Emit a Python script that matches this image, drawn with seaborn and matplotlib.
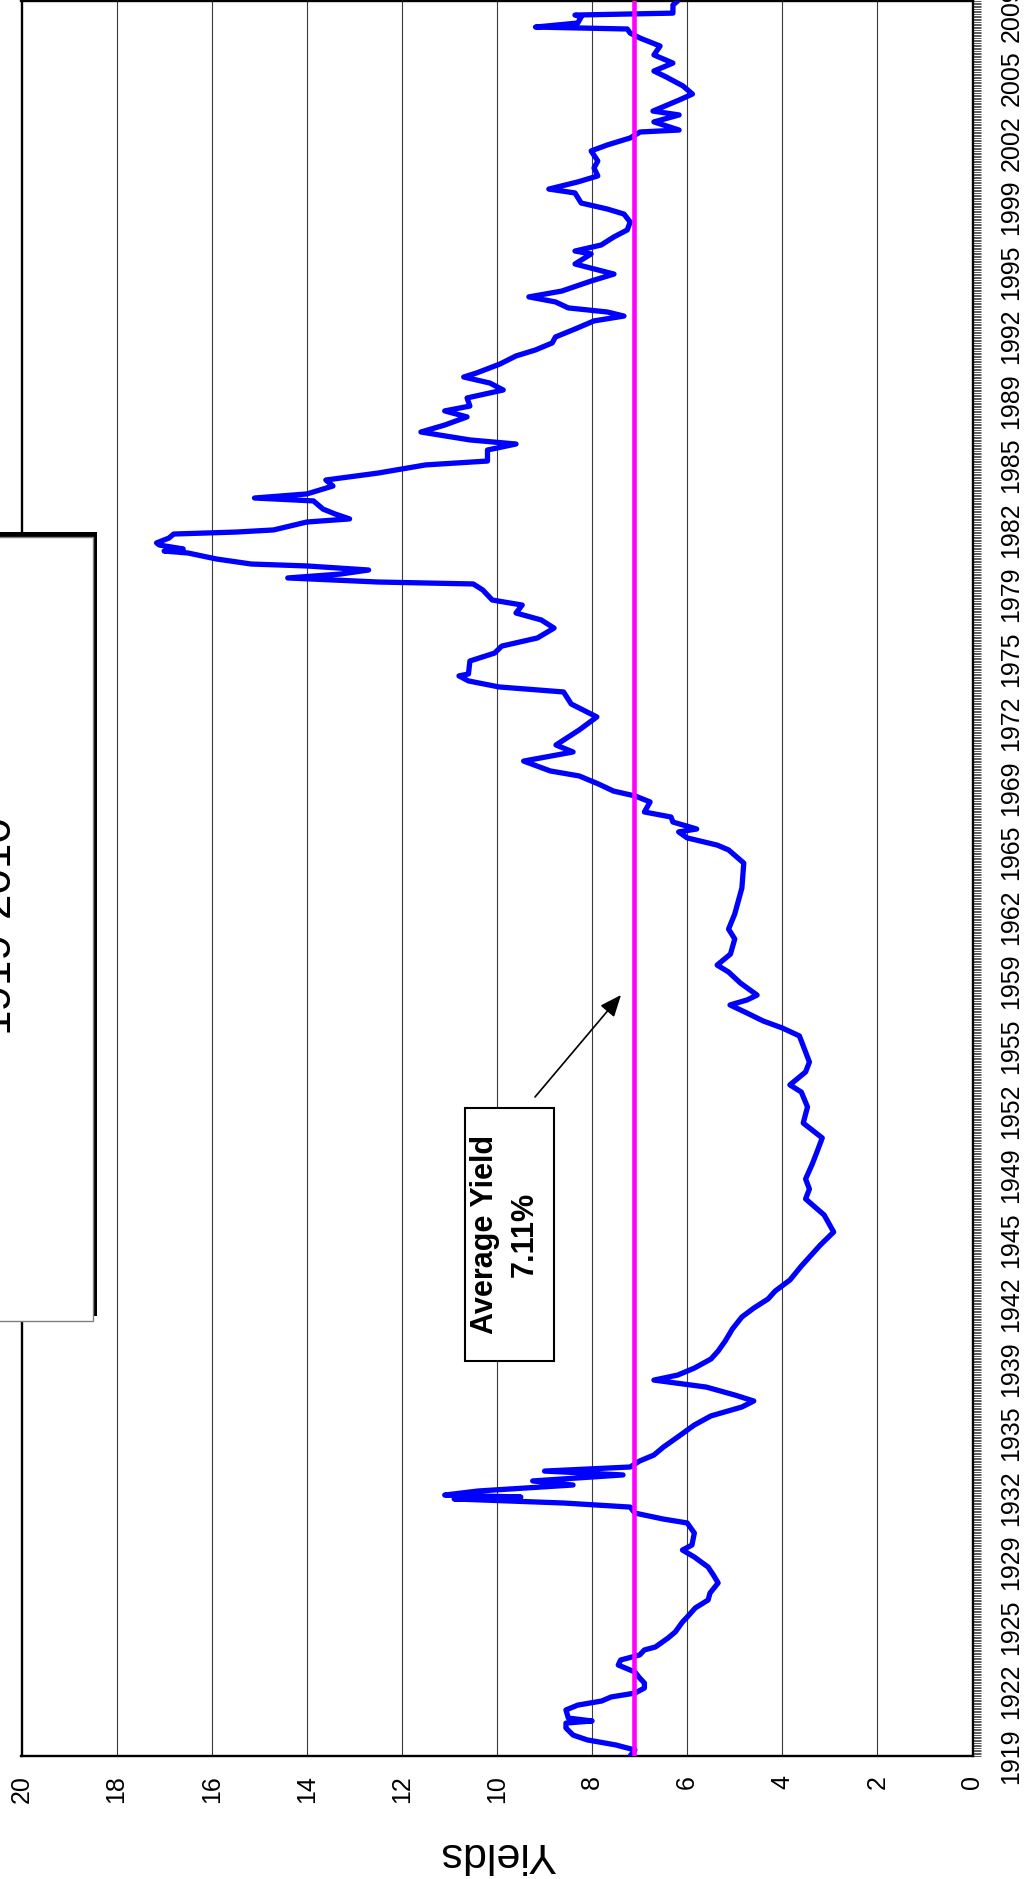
import matplotlib
matplotlib.use("Agg")
import numpy as np
import pandas as pd
import matplotlib.pyplot as plt
from matplotlib.patches import Rectangle
import seaborn as sns

# Monthly corporate bond yield history: (decimal year, yield in %)
dates = [
    1919.00, 1919.31, 1919.57, 1919.83, 1920.08, 1920.45, 1920.70, 1920.81, 1920.96, 1921.38,
    1921.63, 1921.84, 1922.05, 1922.25, 1922.51, 1922.77, 1923.03, 1923.34, 1923.70, 1923.96,
    1924.22, 1924.48, 1924.63, 1925.10, 1925.41, 1925.92, 1926.18, 1926.65, 1927.06, 1927.42,
    1927.94, 1928.35, 1928.76, 1929.28, 1929.64, 1929.90, 1930.52, 1931.04, 1931.24, 1931.55,
    1931.86, 1932.07, 1932.28, 1932.38, 1932.48, 1932.69, 1933.00, 1933.21, 1933.52, 1933.72,
    1933.93, 1934.24, 1934.55, 1934.96, 1935.48, 1936.10, 1936.57, 1937.03, 1937.34, 1937.65,
    1938.06, 1938.42, 1938.68, 1939.04, 1939.51, 1939.92, 1940.44, 1941.06, 1941.68, 1942.14,
    1942.61, 1943.02, 1943.59, 1944.31, 1945.40, 1946.07, 1946.95, 1947.78, 1948.29, 1948.81,
    1949.58, 1950.15, 1950.93, 1951.70, 1952.53, 1953.30, 1953.67, 1954.34, 1954.85, 1955.68,
    1956.20, 1956.61, 1956.97, 1957.38, 1957.80, 1958.06, 1958.31, 1958.93, 1959.50, 1959.86,
    1960.43, 1961.21, 1961.72, 1962.50, 1963.84, 1965.13, 1965.81, 1966.06, 1966.43, 1966.74,
    1966.89, 1967.25, 1967.51, 1967.77, 1968.29, 1968.60, 1968.85, 1969.22, 1969.63, 1969.89,
    1970.40, 1970.87, 1971.23, 1972.01, 1972.68, 1973.35, 1973.97, 1974.23, 1974.54, 1974.80,
    1974.90, 1975.57, 1975.98, 1976.34, 1976.76, 1977.27, 1977.69, 1978.05, 1978.46, 1978.72,
    1979.24, 1979.55, 1979.65, 1979.86, 1980.06, 1980.27, 1980.48, 1980.58, 1980.84, 1981.15,
    1981.25, 1981.36, 1981.56, 1981.67, 1981.92, 1982.13, 1982.23, 1982.34, 1982.75, 1982.91,
    1983.16, 1983.42, 1983.84, 1983.99, 1984.20, 1984.61, 1984.92, 1985.28, 1985.70, 1985.90,
    1986.47, 1986.78, 1986.99, 1987.40, 1987.76, 1988.18, 1988.49, 1988.74, 1989.16, 1989.57,
    1989.93, 1990.24, 1990.45, 1990.91, 1991.33, 1991.64, 1992.00, 1992.31, 1992.72, 1993.14,
    1993.39, 1993.60, 1993.81, 1994.12, 1994.38, 1994.68, 1995.20, 1995.56, 1996.08, 1996.60,
    1996.75, 1997.06, 1997.48, 1997.84, 1998.25, 1998.66, 1998.92, 1999.23, 1999.75, 1999.95,
    2000.32, 2000.63, 2001.04, 2001.40, 2001.92, 2002.23, 2002.59, 2002.90, 2003.00, 2003.42,
    2003.78, 2003.98, 2004.55, 2004.86, 2005.28, 2005.74, 2006.05, 2006.46, 2006.88, 2007.34,
    2007.75, 2008.01, 2008.22, 2008.32, 2008.53, 2008.84, 2008.94, 2009.04, 2009.46, 2009.67,
]
yields = [
    7.20, 7.10, 7.50, 8.10, 8.40, 8.55, 8.55, 8.00, 8.50, 8.55,
    8.30, 7.80, 7.60, 7.10, 6.90, 6.90, 7.00, 7.10, 7.45, 7.40,
    7.00, 6.90, 6.67, 6.40, 6.25, 6.10, 6.00, 5.83, 5.56, 5.52,
    5.35, 5.45, 5.56, 5.85, 6.10, 5.90, 5.85, 6.00, 6.50, 7.10,
    7.20, 8.60, 10.90, 9.50, 11.10, 10.40, 8.40, 9.25, 7.35, 9.00,
    7.20, 7.00, 6.70, 6.50, 6.20, 5.85, 5.50, 4.85, 4.60, 5.00,
    5.60, 6.70, 6.20, 5.85, 5.50, 5.35, 5.20, 5.05, 4.85, 4.60,
    4.30, 4.15, 3.84, 3.60, 3.20, 2.92, 3.12, 3.51, 3.43, 3.51,
    3.37, 3.28, 3.16, 3.56, 3.47, 3.60, 3.84, 3.51, 3.43, 3.56,
    3.64, 4.00, 4.40, 4.74, 5.10, 4.74, 4.53, 4.88, 5.13, 5.37,
    5.09, 5.00, 5.13, 5.00, 4.85, 4.81, 5.13, 5.37, 6.00, 6.18,
    5.80, 6.30, 6.34, 6.90, 6.78, 7.10, 7.55, 7.87, 8.27, 8.88,
    9.44, 8.40, 8.76, 8.27, 7.90, 8.44, 8.60, 9.96, 10.60, 10.80,
    10.60, 10.57, 10.05, 9.90, 9.15, 8.80, 9.07, 9.60, 9.47, 10.10,
    10.30, 10.50, 12.50, 14.40, 13.30, 12.70, 14.00, 15.17, 15.90, 16.50,
    17.00, 16.60, 17.10, 17.16, 16.90, 16.80, 15.50, 14.70, 14.00, 13.10,
    13.40, 13.66, 13.86, 15.10, 14.00, 13.45, 13.60, 12.50, 11.50, 10.20,
    10.20, 9.60, 10.57, 11.60, 11.10, 10.63, 11.10, 10.57, 10.63, 9.87,
    10.15, 10.70, 10.43, 9.94, 9.60, 9.19, 8.84, 8.77, 8.36, 7.96,
    7.33, 7.68, 8.50, 8.77, 9.33, 8.64, 8.02, 7.54, 8.36, 8.02,
    8.36, 7.81, 7.54, 7.26, 7.20, 7.33, 7.68, 8.23, 8.36, 8.91,
    8.30, 7.88, 7.96, 7.88, 8.02, 7.68, 7.20, 6.99, 6.17, 6.70,
    6.17, 6.72, 6.17, 5.89, 6.09, 6.44, 6.70, 6.30, 6.70, 6.57,
    6.99, 7.20, 7.26, 9.19, 8.30, 8.23, 8.36, 6.30, 6.30, 6.20,
]

AVERAGE_YIELD = 7.11
YIELD_TICKS = [0, 2, 4, 6, 8, 10, 12, 14, 16, 18, 20]
YEAR_LABELS = ['1919', '1922', '1925', '1929', '1932', '1935', '1939', '1942', '1945',
               '1949', '1952', '1955', '1959', '1962', '1965', '1969', '1972', '1975',
               '1979', '1982', '1985', '1989', '1992', '1995', '1999', '2002', '2005', '2009']
TITLE_LINE = '1919-2010'

# category axis: one slot per month, a label every 40 months
START_YEAR = 1919.0
N_MONTHS = 1088
MONTHS_PER_LABEL = 40

sns.set_theme(style="white")
plt.rcParams['font.family'] = ['Liberation Sans', 'DejaVu Sans']

W, H = 1024, 1879
fig = plt.figure(figsize=(W / 100, H / 100), dpi=100)


def fx(px):
    return px / W


def fy(py):
    return 1 - py / H


ax = fig.add_axes([fx(21.5), fy(1756), fx(972.5) - fx(21.5), fy(1) - fy(1756)])

df = pd.DataFrame({'date': dates, 'yield': yields})
sns.lineplot(data=df, x='yield', y='date', orient='y', sort=False, estimator=None,
             color='#0000FF', linewidth=3.8, ax=ax, zorder=3,
             solid_joinstyle='round', solid_capstyle='round')
ax.axvline(AVERAGE_YIELD, color='#FF00FF', linewidth=3.3, zorder=4)

ax.set_xlim(20, 0)
ax.set_ylim(START_YEAR, START_YEAR + N_MONTHS / 12)

# value axis (drawn along the bottom, labels turned)
ax.set_xticks(YIELD_TICKS)
ax.set_xticklabels([str(t) for t in YIELD_TICKS])
ax.tick_params(axis='x', length=0, pad=14, labelsize=18, labelrotation=90, colors='black')
ax.grid(axis='x', color='#3a3a3a', linewidth=0.8)
ax.grid(axis='y', visible=False)
ax.set_xlabel('')
ax.set_ylabel('')

# time axis on the right: a tick for every month
label_pos = [START_YEAR + k * MONTHS_PER_LABEL / 12 for k in range(len(YEAR_LABELS))]
ax.yaxis.tick_right()
ax.set_yticks(label_pos)
ax.set_yticklabels(YEAR_LABELS, rotation=90, va='center', ha='left')
ax.set_yticks(START_YEAR + np.arange(N_MONTHS + 1) / 12, minor=True)
ax.tick_params(axis='y', which='both', direction='out', length=5.4, width=0.45,
               color='black', right=True, left=False)
ax.tick_params(axis='y', which='major', labelsize=18, pad=14, colors='black')

for side, spine in ax.spines.items():
    spine.set_visible(True)
    spine.set_color('black')
    spine.set_linewidth(1.7)

fig.text(fx(497), fy(1854), 'Yields', rotation=180, fontsize=31,
         ha='center', va='center', color='black')

# title box with drop shadow
fig.add_artist(Rectangle((fx(-60), fy(1316)), fx(97) - fx(-60), fy(532) - fy(1316),
                         transform=fig.transFigure, facecolor='black', edgecolor='none', zorder=5))
fig.add_artist(Rectangle((fx(-60), fy(1321)), fx(92.5) - fx(-60), fy(537) - fy(1321),
                         transform=fig.transFigure, facecolor='white', edgecolor='#808080',
                         linewidth=1, zorder=6))
fig.text(fx(8), fy(923), TITLE_LINE, rotation=90, rotation_mode='anchor',
         ha='center', va='baseline', fontsize=33, color='black', zorder=7)

# average-yield callout
fig.add_artist(Rectangle((fx(465), fy(1361)), fx(554) - fx(465), fy(1108) - fy(1361),
                         transform=fig.transFigure, facecolor='white', edgecolor='black',
                         linewidth=1.5, zorder=5))
fig.text(fx(485), fy(1234), 'Average Yield', rotation=90, ha='center', va='center',
         fontsize=22, fontweight='bold', color='black', zorder=7)
fig.text(fx(525), fy(1234), f'{AVERAGE_YIELD:.2f}%', rotation=90, ha='center', va='center',
         fontsize=22, fontweight='bold', color='black', zorder=7)
ax.annotate('', xy=(fx(621), fy(995)), xycoords='figure fraction',
            xytext=(fx(535), fy(1097)), textcoords='figure fraction',
            arrowprops=dict(arrowstyle='-|>,head_length=0.6,head_width=0.25',
                            color='black', lw=1.2, mutation_scale=22,
                            shrinkA=0, shrinkB=0), zorder=7)

fig.savefig('out.png', dpi=100, facecolor='white')
